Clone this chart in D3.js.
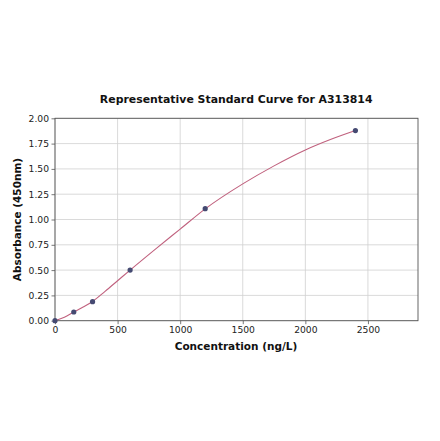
<!DOCTYPE html>
<html><head><meta charset="utf-8">
<script src="https://cdn.jsdelivr.net/npm/d3@7"></script>
<style>body{margin:0;background:#fff}svg{display:block}text{font-family:"DejaVu Sans",sans-serif}</style>
</head><body>
<svg id="c" width="440" height="441"></svg>
<script>
const concentrations = [0, 150, 300, 600, 1200, 2400];
const absorbances = [0.0, 0.086, 0.188, 0.50, 1.107, 1.879];
const curveX = [0, 75, 150, 225, 300, 400, 500, 600, 800, 1000, 1200, 1500, 1750, 2000, 2200, 2400];
const curveY = [0.0, 0.035, 0.086, 0.135, 0.19, 0.29, 0.395, 0.50, 0.705, 0.905, 1.105, 1.352, 1.53, 1.687, 1.79, 1.879];
const xTicks = [0, 500, 1000, 1500, 2000, 2500];
const yTicks = [0, 0.25, 0.5, 0.75, 1.0, 1.25, 1.5, 1.75, 2.0];
const title = "Representative Standard Curve for A313814";
const xLabel = "Concentration (ng/L)";
const yLabel = "Absorbance (450nm)";

const L = 55, T = 118.3, R = 418, B = 320.7;
const svg = d3.select("#c");
const x = d3.scaleLinear().domain([0, 2900]).range([L, R]);
const y = d3.scaleLinear().domain([0, 2]).range([B, T]);

// grid
svg.append("g").selectAll("line").data(xTicks).join("line")
  .attr("x1", d => x(d)).attr("x2", d => x(d)).attr("y1", T).attr("y2", B)
  .attr("stroke", "#d0d0d0").attr("stroke-width", 0.8);
svg.append("g").selectAll("line").data(yTicks).join("line")
  .attr("y1", d => y(d)).attr("y2", d => y(d)).attr("x1", L).attr("x2", R)
  .attr("stroke", "#d0d0d0").attr("stroke-width", 0.8);

// axes
const xa = svg.append("g").attr("transform", `translate(0,${B})`)
  .call(d3.axisBottom(x).tickValues(xTicks).tickFormat(d3.format("d")).tickSize(3.5).tickPadding(2.5));
const ya = svg.append("g").attr("transform", `translate(${L},0)`)
  .call(d3.axisLeft(y).tickValues(yTicks).tickFormat(d3.format(".2f")).tickSize(3.5).tickPadding(2.5));
[xa, ya].forEach(a => {
  a.select(".domain").remove();
  a.selectAll(".tick line").attr("stroke", "#555").attr("stroke-width", 0.8);
  a.selectAll(".tick text").attr("font-size", 9.2).attr("fill", "#222").attr("font-family", "DejaVu Sans");
});

// frame
svg.append("rect").attr("x", L).attr("y", T).attr("width", R - L).attr("height", B - T)
  .attr("fill", "none").attr("stroke", "#555").attr("stroke-width", 0.9);

// curve
const pts = curveX.map((c, i) => [c, curveY[i]]);
svg.append("path").datum(pts)
  .attr("d", d3.line().x(d => x(d[0])).y(d => y(d[1])).curve(d3.curveMonotoneX))
  .attr("fill", "none").attr("stroke", "#c0617e").attr("stroke-width", 1.1);

// points
svg.append("g").selectAll("circle").data(concentrations.map((c, i) => [c, absorbances[i]])).join("circle")
  .attr("cx", d => x(d[0])).attr("cy", d => y(d[1])).attr("r", 2.6)
  .attr("fill", "#454a72");

// texts
svg.append("text").attr("x", 236.2).attr("y", 103).attr("text-anchor", "middle")
  .attr("font-size", 10.9).attr("font-weight", "bold").attr("fill", "#111").text(title);
svg.append("text").attr("x", 236).attr("y", 349.5).attr("text-anchor", "middle")
  .attr("font-size", 10.5).attr("font-weight", "bold").attr("fill", "#111").text(xLabel);
svg.append("text").attr("transform", `translate(20.5,${(T + B) / 2}) rotate(-90)`).attr("text-anchor", "middle")
  .attr("font-size", 10.5).attr("font-weight", "bold").attr("fill", "#111").text(yLabel);
</script>
</body></html>
